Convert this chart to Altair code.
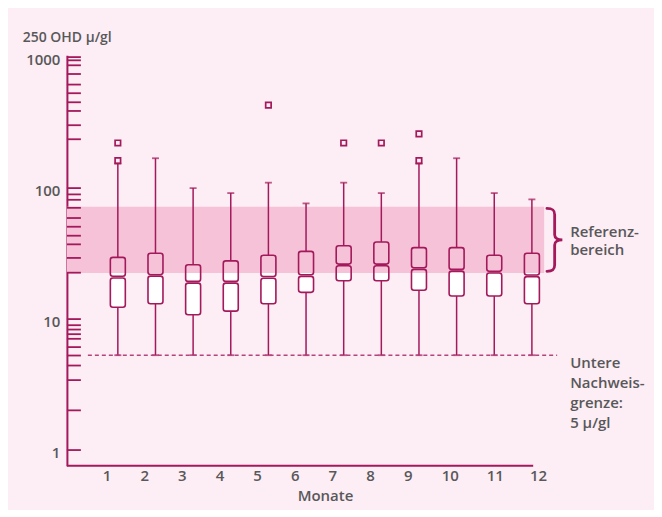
import altair as alt
import pandas as pd

# ---- data ----
months = list(range(1, 13))
whisker_low = [5.3] * 12
q1 = [12.3, 13.1, 10.8, 11.5, 13.1, 16.0, 19.6, 19.6, 16.6, 15.0, 15.0, 13.1]
median = [20.9, 21.6, 19.1, 19.1, 20.8, 21.5, 25.9, 25.9, 24.3, 23.6, 22.8, 21.4]
q3 = [29.6, 31.8, 26.0, 27.8, 30.7, 32.9, 36.3, 38.8, 35.1, 35.1, 30.7, 31.8]
whisker_high = [154, 169, 100, 91.6, 110, 76.4, 110, 91.6, 154, 169, 91.6, 82.0]

outlier_month = [1, 1, 5, 7, 8, 9, 9]
outlier_value = [221, 162, 430, 221, 221, 259, 162]

ref_low = 22.5
ref_high = 72
detection_limit = 5.3

y_label_values = [1, 10, 100, 1000]
y_tick_values = [1000, 945, 866, 743, 617, 530, 452, 388, 302, 236,
                 100, 89.5, 81.4, 70.7, 59.1, 50.7, 43.3, 37.2, 29.3, 22.6,
                 10, 8.98, 8.32, 7.67, 7.07, 6.11, 5.27, 4.42, 3.42, 2.01, 1]

ref_text = ["Referenz-", "bereich"]
limit_text = ["Untere", "Nachweis-", "grenze:", "5 μ/gl"]
y_title = "250 OHD μ/gl"
x_title = "Monate"

# ---- styling ----
MAG = "#a3195b"
BG = "#fdedf4"
BAND = "#f6c2d7"
TXT = "#58585a"
FONT = "Open Sans"
FS = 15
FW = 600

W, H = 493, 411
xs = alt.Scale(domain=[-0.353, 12.724], nice=False, zero=False, padding=0)
ys = alt.Scale(type="log", domain=[0.76, 1032], nice=False, padding=0)

box_df = pd.DataFrame({"month": months, "q1": q1, "median": median, "q3": q3,
                       "lo": whisker_low, "hi": whisker_high})
out_df = pd.DataFrame({"month": outlier_month, "value": outlier_value})
tick_df = pd.DataFrame({"v": y_tick_values})
band_df = pd.DataFrame({"low": [ref_low], "high": [ref_high]})
limit_df = pd.DataFrame({"v": [detection_limit]})

base = alt.Chart(box_df).transform_calculate(
    med_hi="datum.median * 1.015", med_lo="datum.median / 1.015"
)

y_axis = alt.Axis(values=y_label_values, format="d", ticks=False, tickSize=0, grid=False,
                  domain=True, domainColor=MAG, domainWidth=2,
                  labelFont=FONT, labelFontSize=FS, labelFontWeight=FW, labelColor=TXT,
                  labelPadding=7, labelOffset=2, labelFlush=False,
                  title=y_title, titleAngle=0, titleAlign="left", titleBaseline="alphabetic",
                  titleX=-44.7, titleY=-14, titleFont=FONT, titleFontSize=14,
                  titleFontWeight=FW, titleColor=TXT)
x_axis = alt.Axis(labels=False, ticks=False, domain=False, grid=False,
                  title=x_title, titleX=258.5, titleY=35, titleAlign="center",
                  titleBaseline="alphabetic", titleFont=FONT, titleFontSize=FS,
                  titleFontWeight=FW, titleColor=TXT)


def X(field):
    return alt.X(field, scale=xs, axis=x_axis)


def Y(field):
    return alt.Y(field, scale=ys, axis=y_axis)


fill_upper = base.mark_bar(size=15, cornerRadius=2.5, color="white").encode(
    x=X("month:Q"), y=Y("q3:Q"), y2="med_hi:Q")
fill_lower = base.mark_bar(size=15, cornerRadius=2.5, color="white").encode(
    x=X("month:Q"), y=Y("med_lo:Q"), y2="q1:Q")
fill_neck = base.mark_bar(size=11, color="white").encode(
    x=X("month:Q"), y=Y("med_lo:Q"), y2="med_hi:Q")

band = alt.Chart(band_df).mark_rect(color=BAND).encode(
    x=alt.value(0), x2=alt.value(478), y=Y("low:Q"), y2="high:Q")

whisk_hi = base.mark_rule(color=MAG, strokeWidth=1.5).encode(
    x=X("month:Q"), y=Y("q3:Q"), y2="hi:Q")
whisk_lo = base.mark_rule(color=MAG, strokeWidth=1.5).encode(
    x=X("month:Q"), y=Y("q1:Q"), y2="lo:Q")
cap_hi = base.mark_tick(orient="horizontal", size=7, thickness=1.8, color=MAG).encode(
    x=X("month:Q"), y=Y("hi:Q"))
cap_lo = base.mark_tick(orient="horizontal", size=7, thickness=1.8, color=MAG).encode(
    x=X("month:Q"), y=Y("lo:Q"))

outline_upper = base.mark_bar(size=15, cornerRadius=2.5, filled=False, color=MAG,
                              strokeWidth=1.6).encode(
    x=X("month:Q"), y=Y("q3:Q"), y2="med_hi:Q")
outline_lower = base.mark_bar(size=15, cornerRadius=2.5, filled=False, color=MAG,
                              strokeWidth=1.6).encode(
    x=X("month:Q"), y=Y("med_lo:Q"), y2="q1:Q")

outliers = alt.Chart(out_df).mark_point(shape="square", size=30, filled=False,
                                        color=MAG, strokeWidth=1.7, opacity=1).encode(
    x=X("month:Q"), y=Y("value:Q"))

limit_line = alt.Chart(limit_df).mark_rule(color="#b3447c", strokeWidth=1.6,
                                           strokeDash=[4, 3]).encode(
    x=alt.value(21), x2=alt.value(491), y=Y("v:Q"))

y_ticks = alt.Chart(tick_df).mark_rule(color=MAG, strokeWidth=1.8).encode(
    x=alt.value(0), x2=alt.value(14), y=Y("v:Q"))

x_line = alt.Chart(band_df).mark_rule(color=MAG, strokeWidth=2).encode(
    x=alt.value(0), x2=alt.value(467), y=alt.value(H))

x_labels = alt.Chart(box_df).transform_calculate(
    lx="datum.month + (datum.month <= 9 ? -0.287 : datum.month == 10 ? -0.167 : datum.month == 11 ? 0.027 : 0.175)"
).mark_text(font=FONT, fontSize=FS, fontWeight=FW, color=TXT,
            align="center", baseline="alphabetic").encode(
    x=X("lx:Q"), y=alt.value(426.7), text="month:Q")

brace_path = ("M -0.245 -1 C -0.06 -1 0 -0.95 0 -0.8 L 0 -0.16 "
              "C 0 -0.05 0.1 0 0.245 0 C 0.1 0 0 0.05 0 0.16 "
              "L 0 0.8 C 0 0.95 -0.06 1 -0.245 1")
brace = alt.Chart(band_df).transform_calculate(
    mid="sqrt(datum.low * datum.high)"
).mark_point(shape=brace_path, size=3969, filled=False, color=MAG,
             strokeWidth=2.8, opacity=1, strokeCap="round").encode(
    x=alt.value(488.5), y=Y("mid:Q"))

ref_label = alt.Chart(band_df).transform_calculate(
    mid="sqrt(datum.low * datum.high)"
).mark_text(font=FONT, fontSize=FS, fontWeight=FW, color=TXT, align="left",
            baseline="alphabetic", lineHeight=18.5, dy=-3).encode(
    x=alt.value(504), y=Y("mid:Q"), text=alt.value(ref_text))

limit_label = alt.Chart(limit_df).mark_text(
    font=FONT, fontSize=FS, fontWeight=FW, color=TXT, align="left",
    baseline="alphabetic", lineHeight=20, dy=13).encode(
    x=alt.value(504), y=Y("v:Q"), text=alt.value(limit_text))

chart = alt.layer(
    fill_upper, fill_lower, fill_neck, band,
    whisk_hi, whisk_lo, cap_hi, cap_lo,
    outline_upper, outline_lower, outliers,
    limit_line, y_ticks, x_line, x_labels,
    brace, ref_label, limit_label,
).properties(
    width=W, height=H, background=BG,
    padding={"left": 59, "top": 47, "right": 95, "bottom": 44},
    autosize=alt.AutoSizeParams(type="none"),
).configure_view(stroke=None)

chart.save("out.html", embed_options={"renderer": "svg", "actions": False})
